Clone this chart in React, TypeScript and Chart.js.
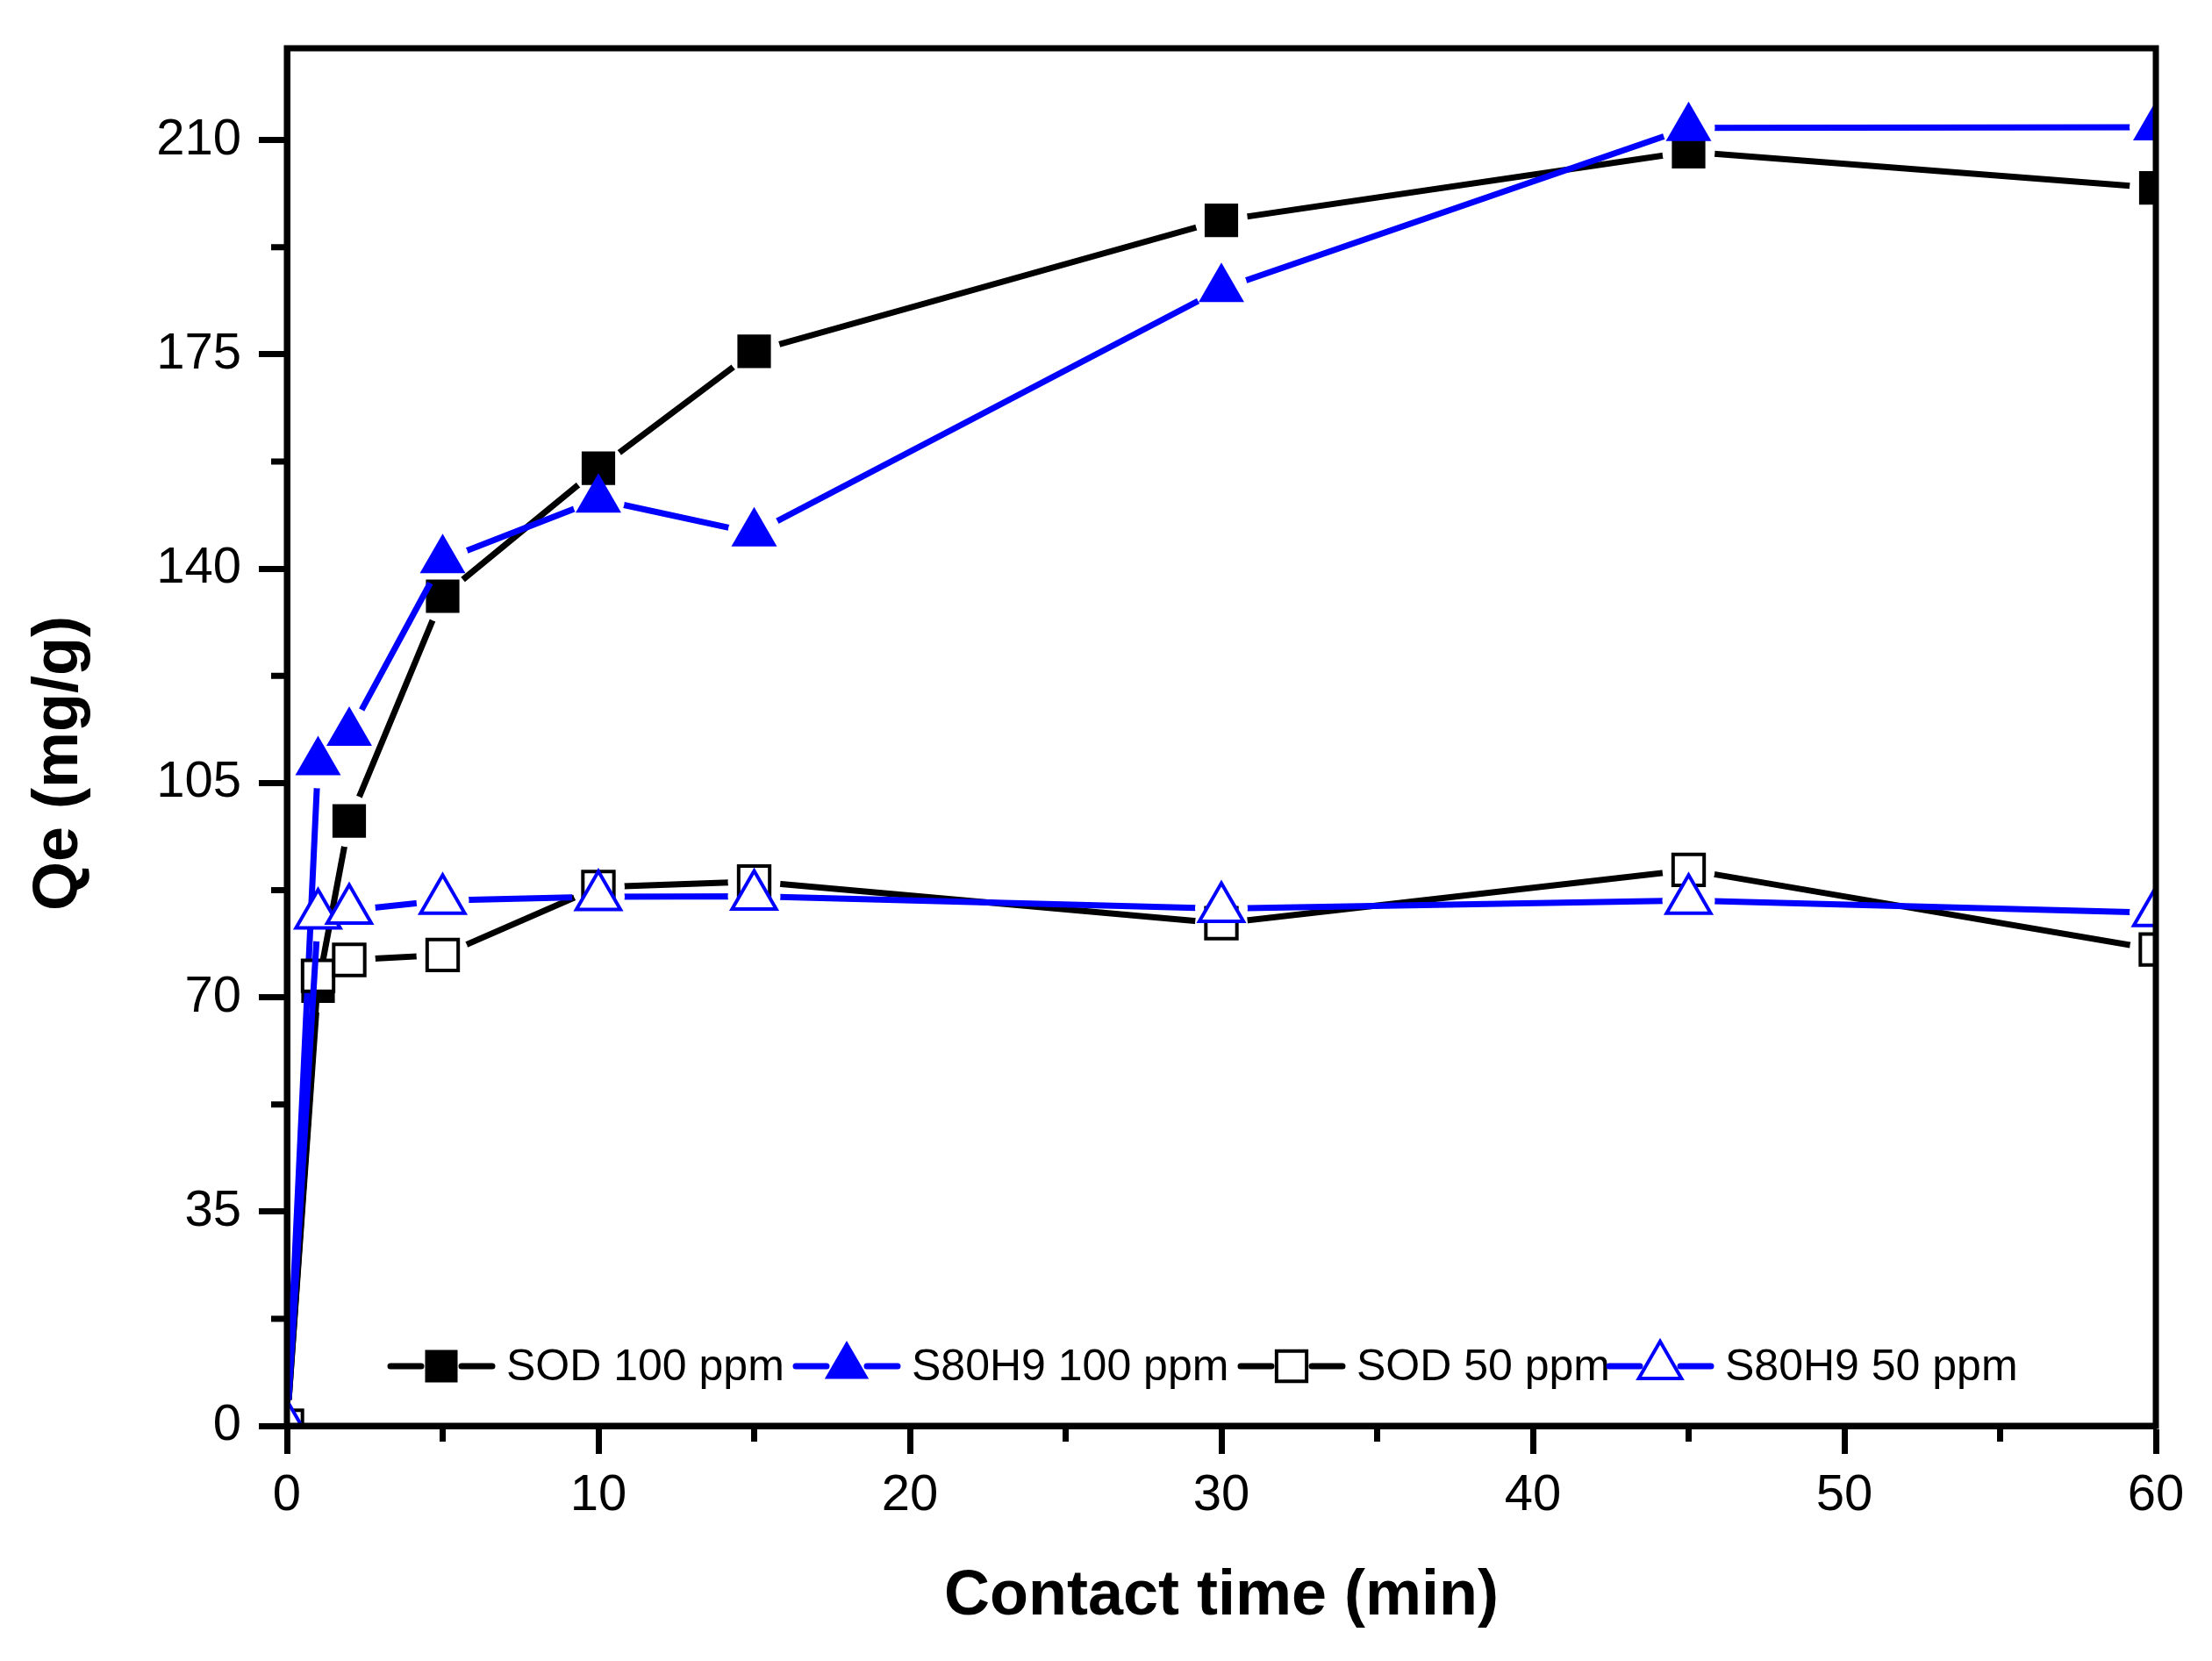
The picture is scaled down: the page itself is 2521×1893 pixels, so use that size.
import { useEffect, useRef } from "react";
import { Chart, registerables } from "chart.js";

Chart.register(...registerables);

// contact time (min)
const contactTime = [0, 1, 2, 5, 10, 15, 30, 45, 60];

// Qe (mg/g) per sample
const sod100 = [0, 71.8, 98.8, 135.5, 156.4, 175.5, 196.9, 208.1, 202.2];
const s80h9_100 = [0, 108.4, 113.2, 141.4, 151.3, 145.8, 185.7, 212.0, 212.1];
const sod50 = [0, 73.5, 76.1, 76.9, 88.0, 88.9, 82.1, 90.8, 77.8];
const s80h9_50 = [0, 83.4, 84.2, 85.8, 86.4, 86.5, 84.5, 85.8, 83.8];

const seriesLabels = ["SOD 100 ppm", "S80H9 100 ppm", "SOD 50 ppm", "S80H9 50 ppm"];

const xTicks = [0, 10, 20, 30, 40, 50, 60];
const xMinorTicks = [5, 15, 25, 35, 45, 55];
const yTicks = [0, 35, 70, 105, 140, 175, 210];
const yMinorTicks = [17.5, 52.5, 87.5, 122.5, 157.5, 192.5];

const FONT = "'Liberation Sans', Arial, Helvetica, sans-serif";
const BLUE = "#0000ff";
const BLACK = "#000000";
const LINE_GAP = 30; // Origin-style gap between the line and each symbol

type Shape = "rect" | "triangle";

const styles: { color: string; shape: Shape; filled: boolean }[] = [
  { color: BLACK, shape: "rect", filled: true },
  { color: BLUE, shape: "triangle", filled: true },
  { color: BLACK, shape: "rect", filled: false },
  { color: BLUE, shape: "triangle", filled: false },
];

// legend entry start, measured from the left of the plot area
const legendOffsets = [115, 577, 1084, 1504];

function radiusFor(shape: Shape, filled: boolean) {
  if (shape === "rect") return filled ? 27 : 25;
  return filled ? 30 : 29;
}

function drawMarker(
  ctx: CanvasRenderingContext2D,
  shape: Shape,
  x: number,
  y: number,
  r: number,
  color: string,
  filled: boolean
) {
  ctx.beginPath();
  if (shape === "rect") {
    const s = Math.SQRT1_2 * r;
    ctx.rect(x - s, y - s, 2 * s, 2 * s);
  } else {
    for (let k = 0; k < 3; k++) {
      const a = (k * 2 * Math.PI) / 3;
      const px = x + Math.sin(a) * r;
      const py = y - Math.cos(a) * r;
      if (k === 0) ctx.moveTo(px, py);
      else ctx.lineTo(px, py);
    }
    ctx.closePath();
  }
  ctx.fillStyle = filled ? color : "#ffffff";
  ctx.fill();
  if (!filled) {
    ctx.lineWidth = 4;
    ctx.strokeStyle = color;
    ctx.stroke();
  }
}

// line datasets sit at even indices: cut a gap round every point
const gapPlugin = {
  id: "lineGaps",
  beforeDatasetDraw(chart: Chart, args: any) {
    if (args.index % 2 !== 0) return;
    const { ctx, width, height } = chart;
    ctx.save();
    for (const el of args.meta.data) {
      ctx.beginPath();
      ctx.rect(0, 0, width, height);
      ctx.moveTo(el.x + LINE_GAP, el.y);
      ctx.arc(el.x, el.y, LINE_GAP, 0, Math.PI * 2);
      ctx.clip("evenodd");
    }
  },
  afterDatasetDraw(chart: Chart, args: any) {
    if (args.index % 2 !== 0) return;
    chart.ctx.restore();
  },
};

const framePlugin = {
  id: "frameAndLegend",
  afterDraw(chart: Chart) {
    const { ctx, chartArea: a, scales } = chart;
    ctx.save();
    ctx.strokeStyle = BLACK;
    ctx.lineWidth = 7;
    ctx.strokeRect(a.left, a.top, a.right - a.left, a.bottom - a.top);

    // minor ticks
    ctx.beginPath();
    for (const v of xMinorTicks) {
      const px = scales.x.getPixelForValue(v);
      ctx.moveTo(px, a.bottom);
      ctx.lineTo(px, a.bottom + 18);
    }
    for (const v of yMinorTicks) {
      const py = scales.y.getPixelForValue(v);
      ctx.moveTo(a.left, py);
      ctx.lineTo(a.left - 18, py);
    }
    ctx.stroke();

    // legend inside the plot, along the bottom
    const ly = a.bottom - 68;
    ctx.font = `50px ${FONT}`;
    ctx.textBaseline = "middle";
    ctx.textAlign = "left";
    seriesLabels.forEach((label, i) => {
      const st = styles[i];
      const x0 = a.left + legendOffsets[i];
      ctx.strokeStyle = st.color;
      ctx.lineWidth = 7;
      ctx.lineCap = "round";
      ctx.beginPath();
      ctx.moveTo(x0 + 3, ly);
      ctx.lineTo(x0 + 38, ly);
      ctx.moveTo(x0 + 84, ly);
      ctx.lineTo(x0 + 119, ly);
      ctx.stroke();
      drawMarker(ctx, st.shape, x0 + 61, ly, radiusFor(st.shape, st.filled) * 0.97, st.color, st.filled);
      ctx.fillStyle = BLACK;
      ctx.fillText(label, x0 + 135, ly + 2);
    });
    ctx.restore();
  },
};

export default function App() {
  const canvasRef = useRef<HTMLCanvasElement | null>(null);

  useEffect(() => {
    document.body.style.margin = "0";
    if (!canvasRef.current) return;

    const seriesValues = [sod100, s80h9_100, sod50, s80h9_50];

    const datasets: any[] = [];
    seriesValues.forEach((values, i) => {
      const st = styles[i];
      const points = contactTime.map((t, k) => ({ x: t, y: values[k] }));
      // connecting line
      datasets.push({
        label: seriesLabels[i] + " line",
        data: points,
        borderColor: st.color,
        borderWidth: 7,
        borderCapStyle: "round",
        pointRadius: 0,
        tension: 0,
        clip: 0,
        order: 8 - 2 * i,
      });
      // symbols
      datasets.push({
        label: seriesLabels[i],
        data: points,
        showLine: false,
        pointStyle: st.shape,
        pointRadius: radiusFor(st.shape, st.filled),
        pointBackgroundColor: st.filled ? st.color : "#ffffff",
        pointBorderColor: st.color,
        pointBorderWidth: st.filled ? 0 : 4,
        clip: 0,
        order: 7 - 2 * i,
      });
    });

    const chart = new Chart(canvasRef.current, {
      type: "line",
      data: { datasets },
      options: {
        responsive: false,
        devicePixelRatio: 1,
        animation: false,
        events: [],
        layout: { padding: { top: 55, right: 64, left: 0, bottom: 0 } },
        plugins: {
          legend: { display: false },
          tooltip: { enabled: false },
        },
        scales: {
          x: {
            type: "linear",
            min: 0,
            max: 60,
            afterBuildTicks: (scale: any) => {
              scale.ticks = xTicks.map((v) => ({ value: v }));
            },
            afterFit: (scale: any) => {
              scale.height = 268;
            },
            ticks: {
              color: BLACK,
              font: { family: FONT, size: 58 },
              padding: 13,
              maxRotation: 0,
              autoSkip: false,
            },
            grid: {
              drawOnChartArea: false,
              drawTicks: true,
              tickLength: 32,
              tickWidth: 7,
              tickColor: BLACK,
            },
            border: { display: true, color: BLACK, width: 7 },
            title: {
              display: true,
              text: "Contact time (min)",
              color: BLACK,
              font: { family: FONT, size: 72, weight: "bold" },
              padding: { top: 0, bottom: 30 },
            },
          },
          y: {
            type: "linear",
            min: 0,
            max: 225,
            afterBuildTicks: (scale: any) => {
              scale.ticks = yTicks.map((v) => ({ value: v }));
            },
            afterFit: (scale: any) => {
              scale.width = 327;
            },
            ticks: {
              color: BLACK,
              font: { family: FONT, size: 58 },
              padding: 20,
              autoSkip: false,
            },
            grid: {
              drawOnChartArea: false,
              drawTicks: true,
              tickLength: 32,
              tickWidth: 7,
              tickColor: BLACK,
            },
            border: { display: true, color: BLACK, width: 7 },
            title: {
              display: true,
              text: "Qe (mg/g)   ",
              color: BLACK,
              font: { family: FONT, size: 72, weight: "bold" },
              padding: { top: 25, bottom: 0 },
            },
          },
        },
      },
      plugins: [gapPlugin, framePlugin],
    });

    return () => chart.destroy();
  }, []);

  return (
    <div style={{ width: 2521, height: 1893, overflow: "hidden", background: "#ffffff" }}>
      <canvas ref={canvasRef} width={2521} height={1893} style={{ display: "block" }} />
    </div>
  );
}
